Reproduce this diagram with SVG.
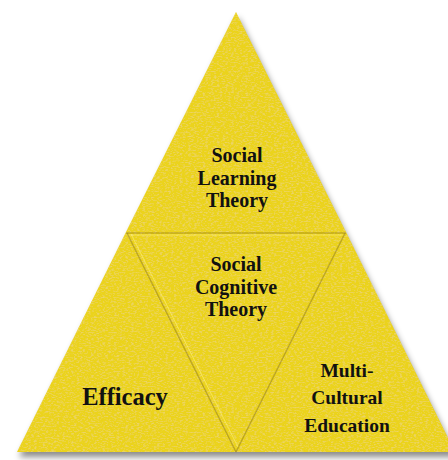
<svg xmlns="http://www.w3.org/2000/svg" width="448" height="460" viewBox="0 0 448 460">
  <defs>
    <filter id="tex" x="0" y="0" width="100%" height="100%">
      <feTurbulence type="fractalNoise" baseFrequency="0.35 0.8" numOctaves="2" seed="3" result="n"/>
      <feColorMatrix in="n" type="matrix" values="0 0 0 0 0.84  0 0 0 0 0.66  0 0 0 0 0.14  3 0 0 0 -1.45" result="spots"/>
      <feComposite in="spots" in2="SourceGraphic" operator="in" result="s2"/>
      <feMerge><feMergeNode in="SourceGraphic"/><feMergeNode in="s2"/></feMerge>
    </filter>
    <filter id="shadow" x="-10%" y="-10%" width="120%" height="120%">
      <feGaussianBlur in="SourceAlpha" stdDeviation="3"/>
      <feOffset dx="2" dy="5" result="b"/>
      <feFlood flood-color="#000" flood-opacity="0.45"/>
      <feComposite in2="b" operator="in"/>
    </filter>
  </defs>
  <style>
    .tri { fill: #EBD31E; }
    .edge { fill: none; stroke: #9C8410; stroke-opacity: 0.5; stroke-width: 1.5; }
    .hi { fill: none; stroke: #FFF27A; stroke-opacity: 0.6; stroke-width: 1; }
    .lbl { font-family: "Liberation Serif", "Times New Roman", serif; font-weight: bold; fill: #111; text-anchor: middle; }
  </style>
  <rect width="448" height="460" fill="#ffffff"/>
  <polygon points="236,12 17,452 455,452" filter="url(#shadow)"/>
  <g id="triangles" filter="url(#tex)">
    <g id="top"><polygon class="tri" points="236,12 126,232 346,232"/></g>
    <g id="left"><polygon class="tri" points="126,232 17,452 236,452"/></g>
    <g id="middle"><polygon class="tri" points="126,232 346,232 236,452"/></g>
    <g id="right"><polygon class="tri" points="346,232 236,452 455,452"/></g>
  </g>
  <g id="connectors">
    <line class="edge" x1="126" y1="233" x2="346" y2="233"/>
    <line class="hi" x1="128" y1="235" x2="344" y2="235"/>
    <line class="edge" x1="127" y1="233" x2="236" y2="452"/>
    <line class="edge" x1="345" y1="233" x2="236" y2="452"/>
    <line class="hi" x1="131" y1="234" x2="238" y2="447"/>
  </g>
  <g id="labels">
    <text class="lbl" font-size="20" x="237" y="162">Social</text>
    <text class="lbl" font-size="20" x="237" y="184.5">Learning</text>
    <text class="lbl" font-size="20" x="237" y="207">Theory</text>
    <text class="lbl" font-size="20" x="236" y="271">Social</text>
    <text class="lbl" font-size="20" x="236" y="293.5">Cognitive</text>
    <text class="lbl" font-size="20" x="236" y="316">Theory</text>
    <text class="lbl" font-size="24.5" x="125" y="405">Efficacy</text>
    <text class="lbl" font-size="19.5" x="347" y="377">Multi-</text>
    <text class="lbl" font-size="19.5" x="347" y="404">Cultural</text>
    <text class="lbl" font-size="19.5" x="347" y="432">Education</text>
  </g>
</svg>
